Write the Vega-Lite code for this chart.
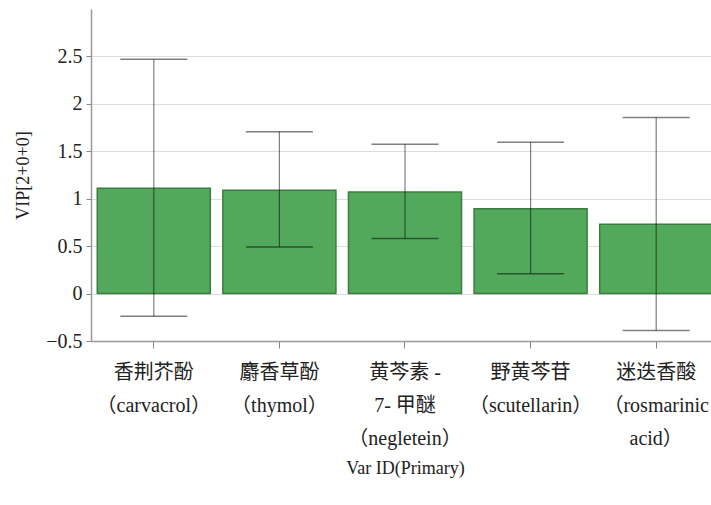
{
  "$schema": "https://vega.github.io/schema/vega-lite/v6.json",
  "width": 628,
  "height": 332,
  "autosize": {"type": "none"},
  "padding": {"left": 91, "top": 9, "right": 0, "bottom": 164},
  "background": "white",
  "config": {
    "view": {"stroke": null},
    "font": "Liberation Serif"
  },
  "data": {
    "values": [
      {"label": "香荆芥酚|（carvacrol）", "vip": 1.11, "lo": -0.24, "hi": 2.47},
      {"label": "麝香草酚|（thymol）", "vip": 1.09, "lo": 0.49, "hi": 1.705},
      {"label": "黄芩素 -|7- 甲醚|（negletein）", "vip": 1.07, "lo": 0.58, "hi": 1.575},
      {"label": "野黄芩苷|（scutellarin）", "vip": 0.895, "lo": 0.21, "hi": 1.595},
      {"label": "迷迭香酸|（rosmarinic|acid）", "vip": 0.73, "lo": -0.39, "hi": 1.855}
    ]
  },
  "encoding": {
    "x": {
      "field": "label",
      "type": "nominal",
      "sort": null,
      "scale": {"paddingInner": 0.1, "paddingOuter": 0.05},
      "axis": {
        "title": "Var ID(Primary)",
        "titleFont": "Liberation Serif",
        "titleFontSize": 18,
        "titleFontWeight": "normal",
        "titleColor": "#222",
        "titlePadding": 11,
        "labelExpr": "split(datum.label, '|')",
        "labelAngle": 0,
        "labelFont": "Liberation Serif, Noto Sans CJK SC",
        "labelFontSize": 20,
        "labelColor": "#222",
        "labelLineHeight": 33,
        "labelPadding": 14,
        "labelBaseline": "top",
        "tickSize": 7,
        "tickColor": "#888",
        "domainColor": "#999",
        "domainWidth": 1.5,
        "grid": false
      }
    }
  },
  "layer": [
    {
      "mark": {"type": "bar", "fill": "#53a95b", "stroke": "#3b7d40", "strokeWidth": 1.5},
      "encoding": {
        "y": {
          "field": "vip",
          "type": "quantitative",
          "scale": {"domain": [-0.5, 3], "nice": false, "zero": false},
          "axis": {
            "title": "VIP[2+0+0]",
            "titleFont": "Liberation Serif",
            "titleFontSize": 18,
            "titleFontWeight": "normal",
            "titleColor": "#222",
            "titlePadding": 13,
            "values": [-0.5, -0.25, 0, 0.25, 0.5, 0.75, 1, 1.25, 1.5, 1.75, 2, 2.25, 2.5, 2.75],
            "format": "~g",
            "labelExpr": "(round(datum.value*4) % 2 == 0) ? datum.label : ''",
            "labelFont": "Liberation Serif",
            "labelFontSize": 20,
            "labelColor": "#222",
            "labelPadding": 4,
            "tickSize": 5,
            "tickColor": "#888",
            "domainColor": "#999",
            "domainWidth": 1.5,
            "grid": true,
            "gridColor": "#dddddd",
            "gridOpacity": {"condition": {"test": "round(datum.value*4) % 2 == 0 && datum.value > -0.4", "value": 1}, "value": 0}
          }
        }
      }
    },
    {
      "mark": {"type": "rule", "color": "#000", "opacity": 0.5, "strokeWidth": 1.2},
      "encoding": {
        "y": {"field": "lo", "type": "quantitative"},
        "y2": {"field": "hi"}
      }
    },
    {
      "mark": {"type": "tick", "orient": "horizontal", "color": "#000", "opacity": 0.5, "size": 67, "thickness": 1.5},
      "encoding": {"y": {"field": "lo", "type": "quantitative"}}
    },
    {
      "mark": {"type": "tick", "orient": "horizontal", "color": "#000", "opacity": 0.5, "size": 67, "thickness": 1.5},
      "encoding": {"y": {"field": "hi", "type": "quantitative"}}
    }
  ]
}
